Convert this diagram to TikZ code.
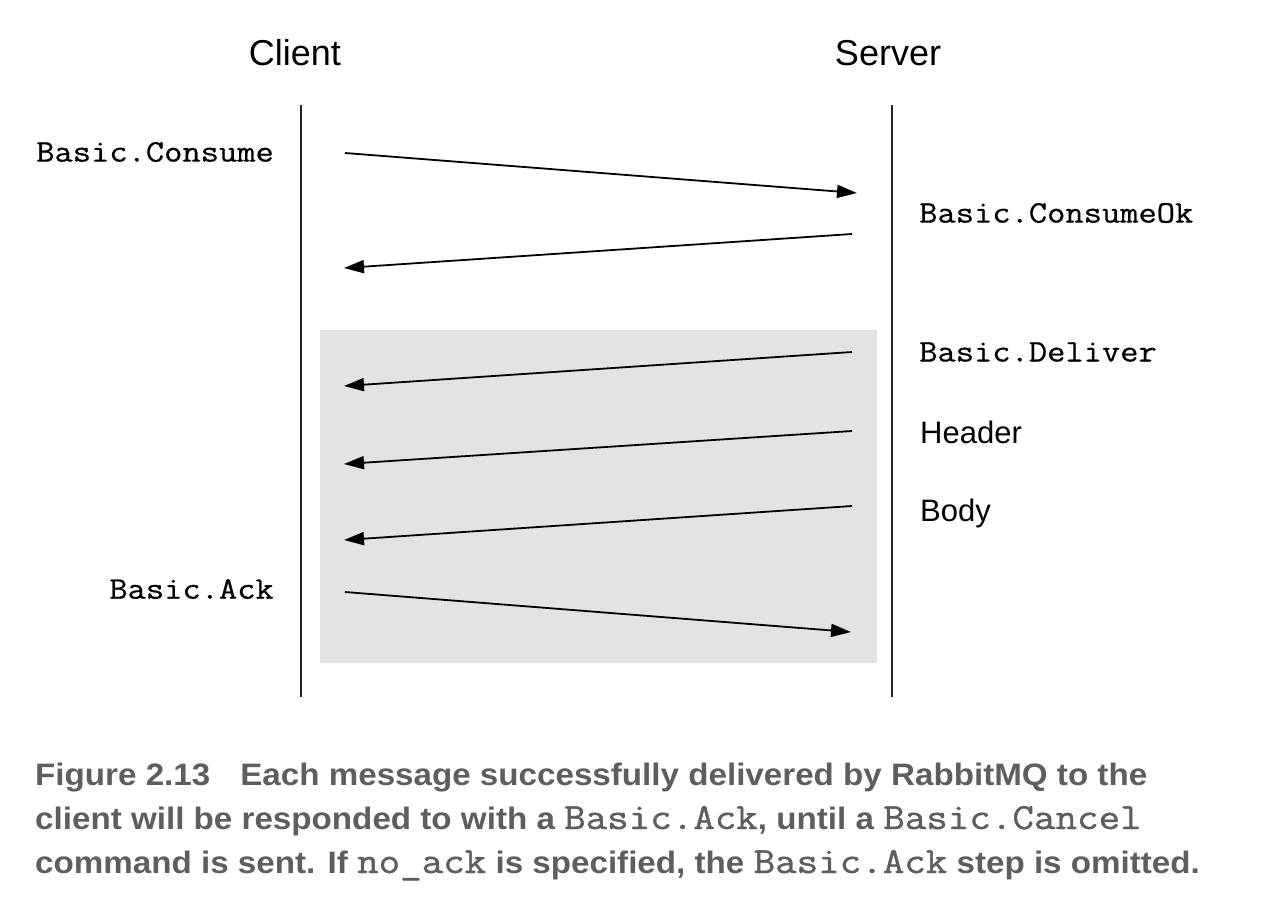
\documentclass[tikz,border=0pt]{standalone}
\usepackage{fontspec}
\setmainfont{Liberation Sans}
\newfontfamily\monof{Latin Modern Mono}[FakeStretch=1.13,FakeBold=0.6]
\newfontfamily\capf{Liberation Sans}[FakeStretch=1.07]
\newfontfamily\capmono{Latin Modern Mono}[FakeStretch=1.13,FakeBold=1.1]
\usetikzlibrary{arrows.meta}
\definecolor{boxgray}{HTML}{E3E3E3}
\definecolor{capgray}{HTML}{5E5E5E}
\newcommand{\cm}[1]{{\capmono\fontsize{37}{44}\selectfont #1}}
\begin{document}
\begin{tikzpicture}[x=1pt,y=-1pt,
  msg/.style={line width=1.8pt,-{Triangle[length=20pt,width=13pt]}},
  life/.style={line width=1.8pt,draw=black!85},
  mono/.style={font=\monof\fontsize{31.4}{34}\selectfont,inner sep=0pt},
  head/.style={font=\fontsize{36}{40}\selectfont,inner sep=0pt},
  lbl/.style={font=\fontsize{31}{34}\selectfont,inner sep=0pt},
  captext/.style={anchor=base west,inner sep=0pt,text=capgray,
    font=\capf\bfseries\fontsize{31}{44}\selectfont}]
\useasboundingbox (0,0) rectangle (1274,914);
\fill[boxgray] (320,330) rectangle (877,663);
\node[head] (client) at (295,53) {Client};
\node[head] (server) at (888,53) {Server};
\coordinate (ct) at (301,105); \coordinate (cb) at (301,697);
\coordinate (st) at (892,105); \coordinate (sb) at (892,697);
\draw[life] (ct) -- (cb);
\draw[life] (st) -- (sb);
% labels
\node[mono,anchor=east] (lconsume) at (274,152) {Basic.Consume};
\node[mono,anchor=west] (lconsumeok) at (919,213) {Basic.ConsumeOk};
\node[mono,anchor=west] (ldeliver) at (919,352) {Basic.Deliver};
\node[lbl,anchor=west] (lheader) at (920,432) {Header};
\node[lbl,anchor=west] (lbody) at (920,513) {Body};
\node[mono,anchor=east] (lack) at (274,589) {Basic.Ack};
% arrow end points
\coordinate (a1) at (345,153); \coordinate (b1) at (857,193);
\coordinate (a2) at (852,234); \coordinate (b2) at (344,268);
\coordinate (a3) at (852,352); \coordinate (b3) at (344,386);
\coordinate (a4) at (852,431); \coordinate (b4) at (344,464);
\coordinate (a5) at (852,506); \coordinate (b5) at (344,540);
\coordinate (a6) at (345,592); \coordinate (b6) at (851,632);
\draw[msg] (a1) -- (b1);
\draw[msg] (a2) -- (b2);
\draw[msg] (a3) -- (b3);
\draw[msg] (a4) -- (b4);
\draw[msg] (a5) -- (b5);
\draw[msg] (a6) -- (b6);
% caption
\node[captext] (cap1) at (35,785) {Figure 2.13\hspace{30pt}Each message successfully delivered by RabbitMQ to the};
\node[captext] (cap2) at (35,829) {client will be responded to with a \cm{Basic.Ack}, until a \cm{Basic.Cancel}};
\node[captext] (cap3) at (35,873) {command is sent. If \cm{no\_ack} is specified, the \cm{Basic.Ack} step is omitted.};
\end{tikzpicture}
\end{document}
